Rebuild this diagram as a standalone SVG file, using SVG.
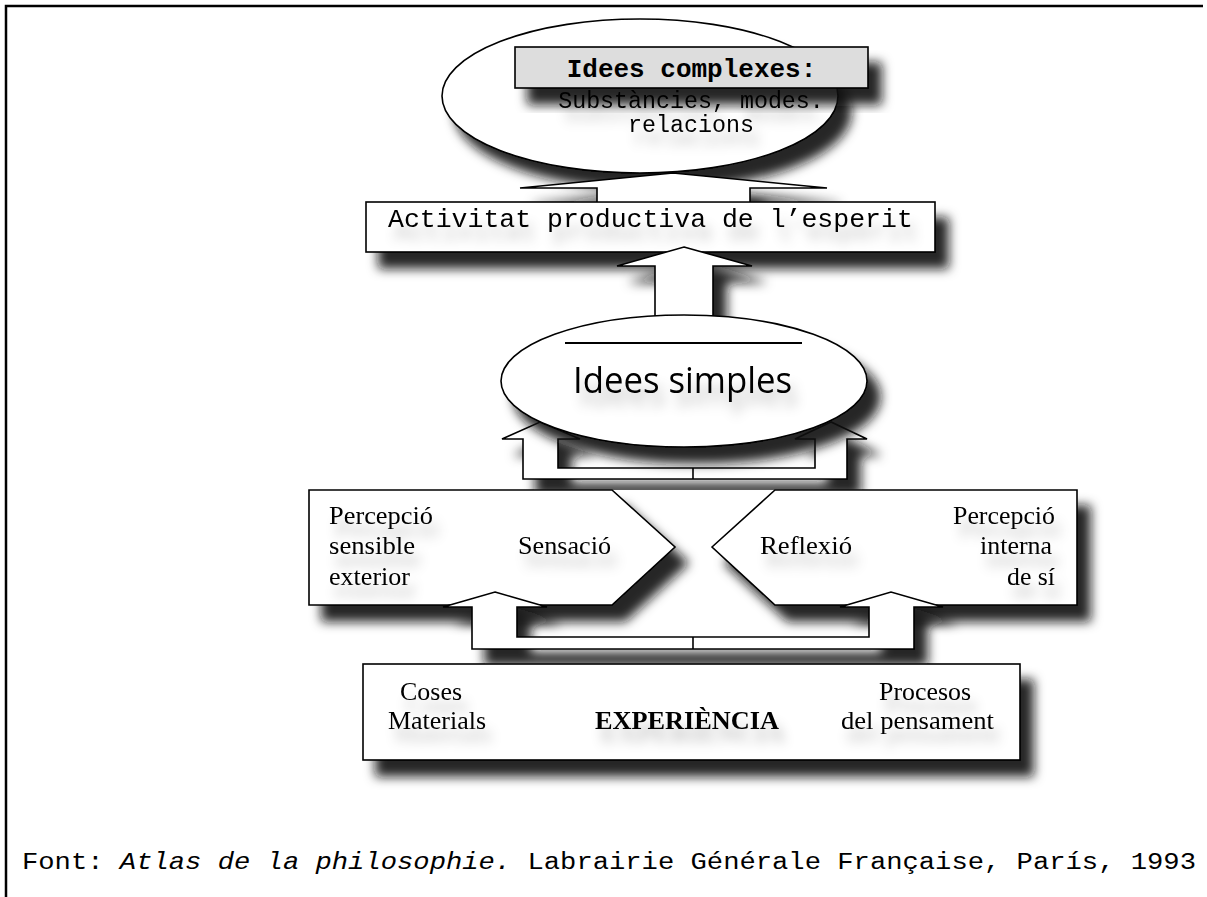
<svg xmlns="http://www.w3.org/2000/svg" width="1207" height="897" viewBox="0 0 1207 897">
<style>
.shape{fill:#fff;stroke:#000;stroke-width:1.6}
.mono{font-family:"Liberation Mono","Courier New",monospace;fill:#000}
.serif{font-family:"Liberation Serif","Times New Roman",serif;fill:#000;font-size:26px}
.conn{fill:#fff;stroke:#000;stroke-width:1.6;stroke-linejoin:miter}
</style>
<defs>
<filter id="sh" x="-15%" y="-30%" width="140%" height="190%">
<feGaussianBlur in="SourceAlpha" stdDeviation="5.5"/>
<feOffset dx="13" dy="16" result="o"/>
<feFlood flood-color="#111" flood-opacity="0.9"/>
<feComposite in2="o" operator="in"/>
<feMerge><feMergeNode/><feMergeNode in="SourceGraphic"/></feMerge>
</filter>
<filter id="ts" x="-10%" y="-60%" width="130%" height="260%">
<feGaussianBlur in="SourceAlpha" stdDeviation="6"/>
<feOffset dx="6" dy="13" result="o"/>
<feFlood flood-color="#000" flood-opacity="0.25"/>
<feComposite in2="o" operator="in"/>
<feMerge><feMergeNode/><feMergeNode in="SourceGraphic"/></feMerge>
</filter>
<clipPath id="c1"><rect x="0" y="0" width="1207" height="202"/></clipPath>
<clipPath id="c2"><rect x="0" y="0" width="1207" height="490"/></clipPath>
<clipPath id="c3"><rect x="0" y="0" width="1207" height="664"/></clipPath>
</defs>

<path d="M6,897 V6 H1203" fill="none" stroke="#000" stroke-width="2.5"/>

<g id="idees-complexes">
<ellipse class="shape" cx="640" cy="96" rx="198" ry="77" filter="url(#sh)"/>
<rect x="515" y="47" width="353" height="41" fill="#ddd" stroke="#000" stroke-width="1.6" filter="url(#sh)"/>
<text class="mono" x="691.5" y="77" font-size="26" font-weight="bold" text-anchor="middle">Idees complexes:</text>
<g filter="url(#ts)">
<text class="mono" x="691" y="108" font-size="23.3" text-anchor="middle">Substàncies, modes.</text>
<text class="mono" x="691" y="132" font-size="23.3" text-anchor="middle">relacions</text>
</g>
</g>

<g id="activitat">
<rect class="shape" x="366" y="202" width="569" height="50" filter="url(#sh)"/>
<text class="mono" x="388" y="227" font-size="26.5" filter="url(#ts)">Activitat productiva de l’esperit</text>
</g>

<g id="sensacio">
<polygon class="shape" points="309,490 612,490 675,547 612,605 309,605" filter="url(#sh)"/>
<g filter="url(#ts)">
<text class="serif" x="329" y="524" textLength="104" lengthAdjust="spacingAndGlyphs">Percepció</text>
<text class="serif" x="329" y="554" textLength="86" lengthAdjust="spacingAndGlyphs">sensible</text>
<text class="serif" x="329" y="585" textLength="81" lengthAdjust="spacingAndGlyphs">exterior</text>
<text class="serif" x="518" y="554" textLength="93" lengthAdjust="spacingAndGlyphs">Sensació</text>
</g>
</g>

<g id="reflexio">
<polygon class="shape" points="712,547 775,490 1077,490 1077,605 775,605" filter="url(#sh)"/>
<g filter="url(#ts)">
<text class="serif" x="760" y="554" textLength="92" lengthAdjust="spacingAndGlyphs">Reflexió</text>
<text class="serif" x="1055" y="524" text-anchor="end" textLength="102" lengthAdjust="spacingAndGlyphs">Percepció</text>
<text class="serif" x="1052" y="554" text-anchor="end" textLength="72" lengthAdjust="spacingAndGlyphs">interna</text>
<text class="serif" x="1055" y="585" text-anchor="end" textLength="48" lengthAdjust="spacingAndGlyphs">de sí</text>
</g>
</g>

<g id="experiencia">
<rect class="shape" x="363" y="664" width="657" height="96" filter="url(#sh)"/>
<g filter="url(#ts)">
<text class="serif" x="400" y="700" textLength="62" lengthAdjust="spacingAndGlyphs">Coses</text>
<text class="serif" x="388" y="729" textLength="98" lengthAdjust="spacingAndGlyphs">Materials</text>
<text class="serif" x="595" y="729" textLength="184" lengthAdjust="spacingAndGlyphs" font-weight="bold">EXPERIÈNCIA</text>
<text class="serif" x="879" y="700" textLength="92" lengthAdjust="spacingAndGlyphs">Procesos</text>
<text class="serif" x="841" y="729" textLength="153" lengthAdjust="spacingAndGlyphs">del pensament</text>
</g>
</g>

<g id="connectors">
<g clip-path="url(#c1)">
<polygon class="conn" points="673,173 827,188 750,188 750,202 597,202 597,188 520,188" filter="url(#sh)"/>
</g>
<polygon class="conn" points="684,247 752,266 713,266 713,316 655,316 655,266 617,266" filter="url(#sh)"/>
<g clip-path="url(#c2)">
<g filter="url(#sh)">
<polygon class="conn" points="540,422 580,439 558,439 558,468 815,468 815,439 795,439 831,422 867,439 847,439 847,479 523,479 523,439 502,439"/>
<line x1="693" y1="468" x2="693" y2="479" stroke="#000" stroke-width="1.6"/>
</g>
</g>
<g clip-path="url(#c3)">
<g filter="url(#sh)">
<polygon class="conn" points="495,592 547,607 517,607 517,637 869,637 869,607 840,607 891,592 943,607 914,607 914,649 472,649 472,607 443,607"/>
<line x1="693" y1="637" x2="693" y2="649" stroke="#000" stroke-width="1.6"/>
</g>
</g>
</g>

<g id="idees-simples">
<ellipse class="shape" cx="684" cy="381" rx="183" ry="66" filter="url(#sh)"/>
<line x1="565" y1="343" x2="802" y2="343" stroke="#000" stroke-width="2"/>
<text x="573" y="393" font-family="'Open Sans','DejaVu Sans',sans-serif" font-size="36" textLength="219" lengthAdjust="spacingAndGlyphs" fill="#000" filter="url(#ts)">Idees simples</text>
</g>

<text class="mono" x="22" y="869" font-size="23" textLength="1174" lengthAdjust="spacingAndGlyphs">Font: <tspan font-style="italic">Atlas de la philosophie.</tspan> Labrairie Générale Française, París, 1993</text>
</svg>
